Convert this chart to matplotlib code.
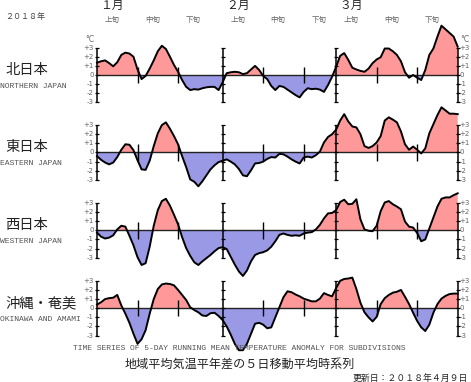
import numpy as np
import matplotlib
matplotlib.use("Agg")
import matplotlib.pyplot as plt

plt.rcParams['font.family'] = ['Noto Sans CJK JP', 'DejaVu Sans']

# daily values, Jan 1 (day 0) .. Mar 31 (day 89), 5-day running mean anomaly (deg C)
north = [1.35, 1.5, 1.6, 1.3, 0.95, 1.4, 2.2, 2.45, 2.35, 2.0,
         0.6, -0.45, -0.1, 0.7, 1.6, 2.6, 3.2, 2.85, 2.0, 1.1,
         0.35, -0.55, -1.3, -1.65, -1.55, -1.6, -1.45, -1.35, -1.3, -1.3,
         -1.65, -0.8, 0.2, 0.3, 0.35, 0.3, 0.1, 0.2, 0.6, 1.0,
         0.55, -0.1, -0.45, -1.2, -1.65, -1.2, -1.3, -1.6, -1.9, -2.2,
         -2.45, -1.85, -1.45, -1.55, -1.5, -1.6, -1.85, -1.1, -0.2, 0.9,
         2.1, 2.4, 1.65, 0.8, 0.6, 0.45, 0.35, 0.7, 1.3, 1.7,
         1.95, 2.9, 2.9, 2.6, 2.2, 1.5, 0.3, -0.3, 0.0, -0.3,
         -0.55, 0.55, 2.2, 2.9, 4.2, 5.4, 5.0, 4.6, 4.2, 3.1]
east = [-0.4, -0.8, -1.1, -1.3, -1.1, -0.5, 0.3, 0.9, 0.85, 0.25,
        -0.85, -1.85, -1.9, -0.9, 0.7, 2.1, 3.0, 3.3, 2.6, 1.8,
        0.9, -0.4, -1.6, -2.95, -3.2, -3.7, -3.15, -2.5, -1.85, -1.4,
        -1.05, -0.9, -0.75, -1.0, -1.3, -1.8, -2.5, -2.6, -1.95, -1.2,
        -1.15, -1.0, -0.7, -0.5, -0.55, -0.15, -0.2, -0.45, -0.75, -1.0,
        -1.2, -0.55, -0.45, -0.55, -0.3, 0.1, 1.1, 1.7, 2.0, 2.5,
        3.5, 4.2, 3.4, 2.85, 2.75, 2.0, 0.7, 0.5, 0.7, 1.1,
        1.8, 3.5, 3.85, 3.6, 3.3, 2.3, 0.9, 0.3, 0.65, 0.3,
        -0.1, 0.45, 2.1, 3.1, 4.1, 4.95, 4.6, 4.25, 4.25, 4.2]
west = [-0.25, -0.7, -0.9, -0.8, -0.55, 0.1, 0.5, 0.4, -0.6, -1.65,
        -2.95, -3.8, -3.6, -1.8, 0.5, 2.2, 3.2, 3.45, 2.7, 1.7,
        0.65, -0.75, -1.95, -2.8, -3.5, -3.8, -3.4, -3.05, -2.7, -2.3,
        -1.95, -1.85, -2.05, -2.9, -3.75, -4.5, -5.0, -4.4, -3.4, -2.7,
        -2.5, -2.4, -2.2, -1.8, -1.2, -0.5, -0.35, -0.5, -0.6, -0.55,
        -0.6, -0.35, -0.25, -0.2, 0.1, 0.6, 1.3, 1.85, 1.9, 2.2,
        3.1, 3.35, 2.85, 2.9, 3.4, 1.2, 0.1, -0.05, -0.1, 0.5,
        2.1, 3.05, 3.2, 2.85, 2.6, 2.3, 0.95, 0.4, 0.3, -0.3,
        -1.2, -1.0, 0.2, 1.4, 2.6, 3.45, 3.6, 3.6, 3.85, 4.05]
okinawa = [0.4, 0.65, 1.0, 1.1, 1.15, 1.45, 0.3, -0.6, -1.6, -2.8,
           -3.9, -3.4, -2.4, -0.6, 1.0, 2.1, 2.6, 2.7, 2.65, 2.5,
           2.0, 1.45, 0.9, 0.1, -0.2, -0.45, -0.8, -0.85, -0.55, -0.5,
           -0.85, -1.3, -2.0, -2.9, -3.9, -4.6, -4.6, -3.9, -2.8, -1.7,
           -1.6, -1.8, -2.2, -2.1, -1.0, 0.1, 1.2, 1.85, 1.75, 1.5,
           1.3, 1.05, 0.9, 0.75, 0.75, 1.05, 1.65, 1.45, 1.3, 2.2,
           3.0, 3.2, 3.25, 3.35, 2.1, 0.6, -0.45, -1.0, -1.45, -0.95,
           0.45, 1.1, 1.45, 1.7, 1.8, 2.0, 1.25, 0.45, -0.5, -1.4,
           -2.1, -2.5, -1.8, -0.5, 0.45, 1.05, 1.35, 1.55, 1.6, 1.6]

series = [north, east, west, okinawa]
names_jp = ['北日本', '東日本', '西日本', '沖縄・奄美']
names_en = ['NORTHERN JAPAN', 'EASTERN JAPAN', 'WESTERN JAPAN', 'OKINAWA AND AMAMI']
month_labels = ['１月', '２月', '３月']
month_start = [0, 31, 59]
dekad_labels = ['上旬', '中旬', '下旬']
dekad_start = [0, 10, 20, 31, 41, 51, 59, 69, 79]
ytick_labels = ['-3', '-2', '-1', '0', '+1', '+2', '+3']

W, H = 471, 382
POS = '#ff9999'
NEG = '#9999e6'

fig = plt.figure(figsize=(W / 100, H / 100), dpi=100)


def fx(x):
    return x / W


def fy(y):
    return 1 - y / H


days = np.arange(len(north))
zeros_px = [75, 152.5, 230.3, 308.2]
half = 27.4     # px for 3 degrees
x0, x1 = 97.0, 457.7

axes = []
for i, vals in enumerate(series):
    y0 = zeros_px[i]
    ax = fig.add_axes([fx(x0), fy(y0 + half), (x1 - x0) / W, 2 * half / H])
    ax.set_xlim(0, 89)
    ax.set_ylim(-3, 3)
    ax.axis('off')
    ax.patch.set_alpha(0)
    v = np.array(vals)
    ax.fill_between(days, v, 0, where=v >= 0, interpolate=True,
                    color=POS, lw=0, clip_on=False, zorder=1)
    ax.fill_between(days, v, 0, where=v <= 0, interpolate=True,
                    color=NEG, lw=0, clip_on=False, zorder=1)
    ax.axhline(0, color='#222222', lw=1.0, zorder=2)
    ax.plot(days, v, color='k', lw=1.4, clip_on=False, zorder=3)
    # month / edge axes with cross ticks
    for xd in [0, 31, 59, 89]:
        ax.vlines(xd, -3, 3, color='k', lw=1.1, zorder=4, clip_on=False)
        ax.hlines(range(-3, 4), xd - 0.5, xd + 0.5, color='k', lw=0.9,
                  zorder=4, clip_on=False)
    # dekad ticks
    for xd in [10, 20, 41, 51, 69, 79]:
        ax.vlines(xd, -0.9, 0.9, color='k', lw=1.0, zorder=4)
    for k, lab in enumerate(ytick_labels):
        ax.text(-0.75, k - 3, lab, ha='right', va='center', fontsize=5,
                color='#666666', family='DejaVu Sans', clip_on=False)
        ax.text(89.45, k - 3, lab, ha='left', va='center', fontsize=5,
                color='#666666', family='DejaVu Sans', clip_on=False)
    fig.text(fx(5), fy(y0 - 5), names_jp[i], fontsize=10.3, color='#222222',
             ha='left', va='center')
    fig.text(fx(0), fy(y0 + 11), names_en[i], fontsize=5.8, color='#555555',
             family='Liberation Mono', ha='left', va='center')
    axes.append(ax)

top = axes[0]
for m, lab in zip(month_start, month_labels):
    top.text(m + 0.8, 7.6, lab, ha='left', va='center', fontsize=8.5,
             color='#222222', clip_on=False)
for j, d in enumerate(dekad_start):
    top.text(d + 3.7, 6.0, dekad_labels[j % 3], ha='center', va='center',
             fontsize=5.4, color='#666666', clip_on=False)

fig.text(fx(85), fy(39), '°C', fontsize=5.5, color='#666666',
         ha='left', va='center', family='DejaVu Sans')
fig.text(fx(460), fy(39), '°C', fontsize=5.5, color='#666666',
         ha='left', va='center', family='DejaVu Sans')
fig.text(fx(5), fy(16), '２０１８年', fontsize=5.8, color='#444444',
         ha='left', va='center')

fig.text(fx(239), fy(348),
         'TIME SERIES OF 5-DAY RUNNING MEAN TEMPERATURE ANOMALY FOR SUBDIVISIONS',
         fontsize=5.8, color='#555555', family='Liberation Mono',
         ha='center', va='center')
fig.text(fx(240), fy(364), '地域平均気温平年差の５日移動平均時系列',
         fontsize=8.7, color='#222222', ha='center', va='center')
fig.text(fx(468), fy(378), '更新日：２０１８年４月９日', fontsize=6.4,
         color='#222222', ha='right', va='center')

fig.savefig('out.png', dpi=100)
